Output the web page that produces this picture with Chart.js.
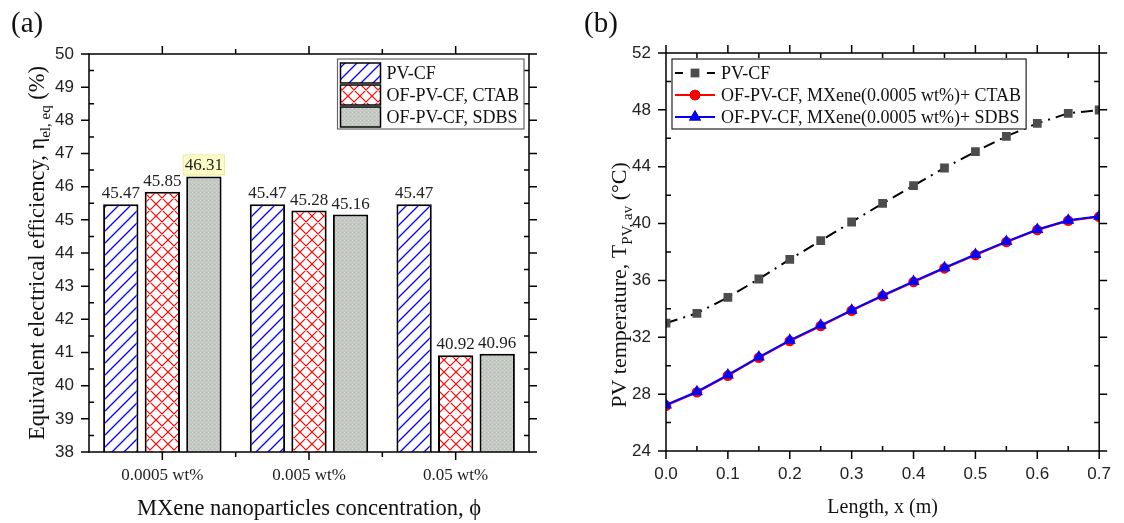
<!DOCTYPE html>
<html>
<head>
<meta charset="utf-8">
<script src="https://cdn.jsdelivr.net/npm/chart.js@4.4.1/dist/chart.umd.min.js"></script>
<style>
  html, body { margin: 0; padding: 0; background: #fff; }
  #contenedor { position: relative; width: 1124px; height: 523px; overflow: hidden; }
  canvas { position: absolute; top: 0; }
  #grafico-barras { left: 0; }
  #grafico-lineas { left: 560px; }
  .panel { position: absolute; top: 8px; font: 29px "Liberation Serif", "Times New Roman", serif; color: #111; line-height: 1; }
</style>
</head>
<body>
<div id="contenedor">
  <canvas id="grafico-barras" width="560" height="523"></canvas>
  <canvas id="grafico-lineas" width="564" height="523"></canvas>
  <div class="panel" style="left:11px">(a)</div>
  <div class="panel" style="left:584px">(b)</div>
</div>
<script>
// eficiencia eléctrica equivalente por concentración de MXene
const concentraciones = ['0.0005 wt%', '0.005 wt%', '0.05 wt%'];
const eficienciaPVCF = [45.47, 45.47, 45.47];
const eficienciaCTAB = [45.85, 45.28, 40.92];
const eficienciaSDBS = [46.31, 45.16, 40.96];
const etiquetasBarras = ['PV-CF', 'OF-PV-CF, CTAB', 'OF-PV-CF, SDBS'];
const rangoEficiencia = [38, 50];

// temperatura del panel a lo largo del colector
const longitud = [0, 0.05, 0.1, 0.15, 0.2, 0.25, 0.3, 0.35, 0.4, 0.45, 0.5, 0.55, 0.6, 0.65, 0.7];
const tempPVCF = [33.0, 33.69, 34.81, 36.1, 37.48, 38.8, 40.11, 41.42, 42.67, 43.91, 45.06, 46.14, 47.05, 47.76, 47.99];
const tempCTAB = [27.19, 28.13, 29.3, 30.56, 31.74, 32.79, 33.87, 34.9, 35.89, 36.85, 37.79, 38.7, 39.55, 40.2, 40.48];
const tempSDBS = [27.24, 28.17, 29.35, 30.61, 31.79, 32.84, 33.91, 34.94, 35.93, 36.89, 37.83, 38.73, 39.58, 40.23, 40.52];
const etiquetasLineas = ['PV-CF', 'OF-PV-CF, MXene(0.0005 wt%)+ CTAB', 'OF-PV-CF, MXene(0.0005 wt%)+ SDBS'];
const rangoTemp = [24, 52];
const rangoLongitud = [0, 0.7];

const SERIF = '"Liberation Serif", "Times New Roman", serif';
const SANS = '"Liberation Sans", Arial, sans-serif';

function patron(lado, fondo, dibujar) {
  const c = document.createElement('canvas');
  c.width = c.height = lado;
  const g = c.getContext('2d');
  g.fillStyle = fondo;
  g.fillRect(0, 0, lado, lado);
  dibujar(g, lado);
  return g.createPattern(c, 'repeat');
}

function diagonales(g, s, subida, bajada) {
  g.beginPath();
  if (subida) {
    g.moveTo(0, s); g.lineTo(s, 0);
    g.moveTo(-2, 2); g.lineTo(2, -2);
    g.moveTo(s - 2, s + 2); g.lineTo(s + 2, s - 2);
  }
  if (bajada) {
    g.moveTo(0, 0); g.lineTo(s, s);
    g.moveTo(-2, s - 2); g.lineTo(2, s + 2);
    g.moveTo(s - 2, -2); g.lineTo(s + 2, 2);
  }
  g.stroke();
}

const rayadoAzul = patron(12, '#fff', (g, s) => {
  g.strokeStyle = '#0000ff';
  g.lineWidth = 1.3;
  diagonales(g, s, true, false);
});

const cruzadoRojo = patron(12, '#fff', (g, s) => {
  g.strokeStyle = '#ff0000';
  g.lineWidth = 1.2;
  diagonales(g, s, true, true);
});

const punteadoGris = patron(4, '#c3c9c2', (g) => {
  g.fillStyle = '#d4d9d3';
  g.fillRect(0, 0, 1, 1);
  g.fillRect(2, 2, 1, 1);
  g.fillStyle = '#b4bbb3';
  g.fillRect(2, 0, 1, 1);
});

// marco con marcas: mayores hacia fuera, menores hacia dentro
const marco = {
  id: 'marco',
  afterDatasetsDraw(chart, args, o) {
    const { ctx, chartArea: a } = chart;
    const sx = chart.scales.x, sy = chart.scales.y;
    const mayor = 8, menor = 5;
    const xMay = o.xMayores || sx.ticks.map(t => t.value);
    const yMay = sy.ticks.map(t => t.value);
    const medios = v => v.slice(1).map((t, i) => (t + v[i]) / 2);
    const xMen = o.xMenores || medios(xMay);
    const yMen = medios(yMay);
    const dirXmen = o.xMenoresFuera ? 1 : -1;
    ctx.save();
    ctx.strokeStyle = '#000';
    ctx.lineWidth = 1.5;
    ctx.strokeRect(a.left, a.top, a.right - a.left, a.bottom - a.top);
    ctx.beginPath();
    xMay.forEach(v => {
      const p = sx.getPixelForValue(v);
      ctx.moveTo(p, a.bottom); ctx.lineTo(p, a.bottom + mayor);
      ctx.moveTo(p, a.top); ctx.lineTo(p, a.top - mayor);
    });
    xMen.forEach(v => {
      const p = sx.getPixelForValue(v);
      ctx.moveTo(p, a.bottom); ctx.lineTo(p, a.bottom + dirXmen * menor);
      ctx.moveTo(p, a.top); ctx.lineTo(p, a.top - dirXmen * menor);
    });
    yMay.forEach(v => {
      const p = sy.getPixelForValue(v);
      ctx.moveTo(a.left, p); ctx.lineTo(a.left - mayor, p);
      ctx.moveTo(a.right, p); ctx.lineTo(a.right + mayor, p);
    });
    yMen.forEach(v => {
      const p = sy.getPixelForValue(v);
      ctx.moveTo(a.left, p); ctx.lineTo(a.left + menor, p);
      ctx.moveTo(a.right, p); ctx.lineTo(a.right - menor, p);
    });
    ctx.stroke();
    ctx.restore();
  }
};

// texto con subíndices
function textoCompuesto(ctx, partes, cx, cy, giro, tam) {
  const fPrin = tam + 'px ' + SERIF;
  const fSub = Math.round(tam * 0.66) + 'px ' + SERIF;
  ctx.save();
  ctx.translate(cx, cy);
  ctx.rotate(giro);
  let total = 0;
  const anchos = partes.map(p => {
    ctx.font = p.sub ? fSub : fPrin;
    const w = ctx.measureText(p.t).width;
    total += w;
    return w;
  });
  let x = -total / 2;
  ctx.fillStyle = '#111';
  ctx.textBaseline = 'alphabetic';
  partes.forEach((p, i) => {
    ctx.font = p.sub ? fSub : fPrin;
    ctx.fillText(p.t, x, p.sub ? tam * 0.25 : 0);
    x += anchos[i];
  });
  ctx.restore();
}

const titulos = {
  id: 'titulos',
  afterDraw(chart, args, o) {
    const a = chart.chartArea;
    textoCompuesto(chart.ctx, o.x.partes, (a.left + a.right) / 2, o.x.base, 0, o.x.tam);
    textoCompuesto(chart.ctx, o.y.partes, o.y.base, (a.top + a.bottom) / 2 + (o.y.desplazar || 0), -Math.PI / 2, o.y.tam);
  }
};

// valores encima de cada barra
const valores = {
  id: 'valores',
  afterDatasetsDraw(chart, args, o) {
    const ctx = chart.ctx;
    ctx.save();
    ctx.font = '17px ' + SERIF;
    ctx.textAlign = 'center';
    ctx.textBaseline = 'alphabetic';
    chart.data.datasets.forEach((ds, i) => {
      chart.getDatasetMeta(i).data.forEach((barra, j) => {
        const txt = ds.data[j].toFixed(2);
        const yb = barra.y - 6;
        if (o.resaltado && o.resaltado[0] === i && o.resaltado[1] === j) {
          const w = ctx.measureText(txt).width;
          ctx.fillStyle = '#fdfbc6';
          ctx.fillRect(barra.x - w / 2 - 1, yb - 15, w + 2, 20);
          ctx.strokeStyle = '#ecea9c';
          ctx.lineWidth = 1;
          ctx.strokeRect(barra.x - w / 2 - 1.5, yb - 15.5, w + 3, 20);
        }
        ctx.fillStyle = '#222';
        ctx.fillText(txt, barra.x, yb);
      });
    });
    ctx.restore();
  }
};

const leyenda = {
  id: 'leyenda',
  afterDraw(chart, args, o) {
    const { ctx, chartArea: a } = chart;
    const ds = chart.data.datasets;
    ctx.save();
    ctx.font = '18px ' + SERIF;
    const anchoTxt = Math.max(...ds.map(d => ctx.measureText(d.label).width));
    const fila = 22;
    const muestra = 40;
    const w = 3 + muestra + 6 + anchoTxt + 5;
    const h = ds.length * fila + 4;
    const x0 = o.derecha ? a.right - o.margen - w : a.left + o.margen;
    const y0 = a.top + o.margen;
    ctx.fillStyle = '#fff';
    ctx.fillRect(x0, y0, w, h);
    ctx.strokeStyle = o.borde;
    ctx.lineWidth = 1.2;
    ctx.strokeRect(x0, y0, w, h);
    ds.forEach((d, i) => {
      const yy = y0 + 3 + i * fila;
      const yc = yy + fila / 2;
      const xs = x0 + 3;
      if (chart.config.type === 'bar') {
        ctx.fillStyle = d.backgroundColor;
        ctx.fillRect(xs, yy + 1, muestra, 20);
        ctx.strokeStyle = '#000';
        ctx.lineWidth = 1.5;
        ctx.strokeRect(xs, yy + 1, muestra, 20);
      } else {
        ctx.strokeStyle = d.borderColor;
        ctx.lineWidth = 2;
        ctx.setLineDash(d.borderDash ? [8, 24] : []);
        ctx.beginPath();
        ctx.moveTo(xs, yc); ctx.lineTo(xs + muestra, yc);
        ctx.stroke();
        ctx.setLineDash([]);
        Chart.helpers.drawPoint(ctx, {
          pointStyle: d.pointStyle, radius: d.pointRadius, borderWidth: 0, rotation: 0
        }, xs + muestra / 2, yc);
        ctx.fillStyle = d.pointBackgroundColor;
        ctx.fill();
      }
      ctx.fillStyle = '#111';
      ctx.textBaseline = 'middle';
      ctx.fillText(d.label, xs + muestra + 6, yc + 1);
    });
    ctx.restore();
  }
};

const ejesComunes = (fuente, relleno) => ({
  grid: { display: false, drawTicks: false },
  border: { display: false },
  ticks: { font: fuente, color: '#222', padding: relleno }
});

// (a) barras
const ctxBarras = document.getElementById('grafico-barras').getContext('2d');
new Chart(ctxBarras, {
  type: 'bar',
  data: {
    labels: concentraciones,
    datasets: [
      { label: etiquetasBarras[0], data: eficienciaPVCF, backgroundColor: rayadoAzul },
      { label: etiquetasBarras[1], data: eficienciaCTAB, backgroundColor: cruzadoRojo },
      { label: etiquetasBarras[2], data: eficienciaSDBS, backgroundColor: punteadoGris }
    ]
  },
  options: {
    responsive: false,
    animation: false,
    layout: { padding: { left: 0, right: 31, top: 54, bottom: 0 } },
    datasets: {
      bar: { categoryPercentage: 0.85, barPercentage: 0.85, borderColor: '#000', borderWidth: 2, borderSkipped: false }
    },
    plugins: {
      legend: { display: false },
      tooltip: { enabled: false },
      marco: { xMayores: [0, 1, 2], xMenores: [0.5, 1.5], xMenoresFuera: true },
      valores: { resaltado: [2, 0] },
      leyenda: { derecha: true, margen: 5, borde: '#666' },
      titulos: {
        x: { base: 515, tam: 22.5, partes: [{ t: 'MXene nanoparticles concentration, \u03d5' }] },
        y: { base: 44, tam: 22.5, partes: [{ t: 'Equivalent electrical efficiency, \u03b7' }, { t: 'el, eq', sub: true }, { t: ' (%)' }] }
      }
    },
    scales: {
      x: Object.assign(ejesComunes({ family: SERIF, size: 17 }, 13), {
        afterFit: s => { s.height = 71; }
      }),
      y: Object.assign(ejesComunes({ family: SANS, size: 17 }, 15), {
        min: rangoEficiencia[0],
        max: rangoEficiencia[1],
        afterFit: s => { s.width = 89; }
      })
    }
  },
  plugins: [valores, marco, titulos, leyenda]
});
// paso de 1 en el eje de eficiencia
Chart.getChart('grafico-barras').options.scales.y.ticks.stepSize = 1;
Chart.getChart('grafico-barras').update();

// (b) líneas
const puntos = serie => longitud.map((x, i) => ({ x: x, y: serie[i] }));
const ctxLineas = document.getElementById('grafico-lineas').getContext('2d');
new Chart(ctxLineas, {
  type: 'line',
  data: {
    datasets: [
      {
        label: etiquetasLineas[0], data: puntos(tempPVCF), order: 0,
        borderColor: '#000', borderWidth: 2, borderDash: [12, 6, 2, 6],
        pointStyle: 'rect', pointRadius: 6.2, pointBackgroundColor: '#4d4d4d', pointBorderWidth: 0
      },
      {
        label: etiquetasLineas[1], data: puntos(tempCTAB), order: 2,
        borderColor: '#ff0000', borderWidth: 2,
        pointStyle: 'circle', pointRadius: 5.3, pointBackgroundColor: '#ff0000', pointBorderWidth: 0
      },
      {
        label: etiquetasLineas[2], data: puntos(tempSDBS), order: 1,
        borderColor: '#0000ff', borderWidth: 2,
        pointStyle: 'triangle', pointRadius: 7, pointBackgroundColor: '#0000ff', pointBorderWidth: 0
      }
    ]
  },
  options: {
    responsive: false,
    animation: false,
    layout: { padding: { left: 0, right: 18, top: 53, bottom: 0 } },
    elements: { line: { tension: 0 } },
    plugins: {
      legend: { display: false },
      tooltip: { enabled: false },
      marco: {},
      leyenda: { derecha: false, margen: 6, borde: '#222' },
      titulos: {
        x: { base: 513, tam: 20, partes: [{ t: 'Length, x (m)' }] },
        y: { base: 66, tam: 22, desplazar: 33, partes: [{ t: 'PV temperature, T' }, { t: 'PV, av', sub: true }, { t: ' (\u00b0C)' }] }
      }
    },
    scales: {
      x: Object.assign(ejesComunes({ family: SANS, size: 17 }, 13), {
        type: 'linear',
        min: rangoLongitud[0],
        max: rangoLongitud[1],
        afterFit: s => { s.height = 72; }
      }),
      y: Object.assign(ejesComunes({ family: SANS, size: 17 }, 15), {
        min: rangoTemp[0],
        max: rangoTemp[1],
        afterFit: s => { s.width = 106; }
      })
    }
  },
  plugins: [marco, titulos, leyenda]
});
const graficoB = Chart.getChart('grafico-lineas');
graficoB.options.scales.x.ticks.stepSize = 0.1;
graficoB.options.scales.x.ticks.callback = v => v.toFixed(1);
graficoB.options.scales.y.ticks.stepSize = 4;
graficoB.update();
</script>
</body>
</html>
